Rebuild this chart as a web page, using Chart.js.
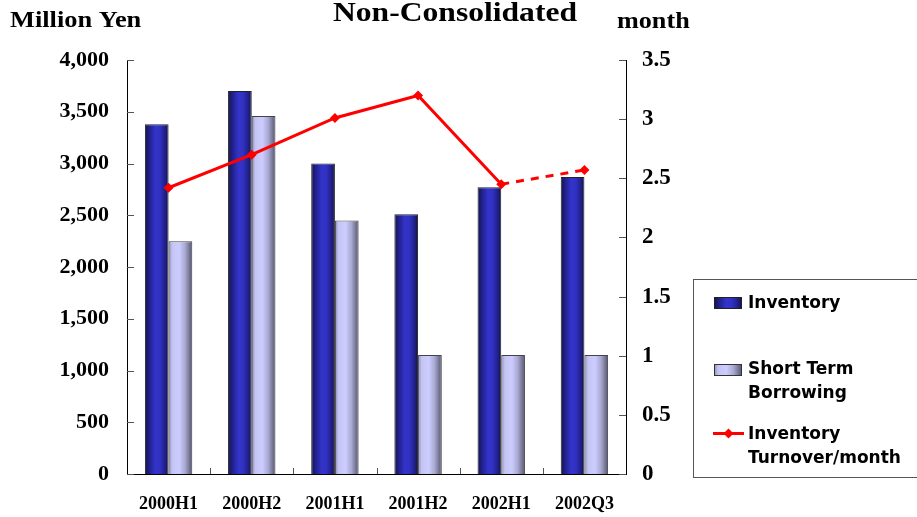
<!DOCTYPE html>
<html>
<head>
<meta charset="utf-8">
<script src="https://cdn.jsdelivr.net/npm/chart.js@4.4.1/dist/chart.umd.min.js"></script>
<style>
html,body{margin:0;padding:0;background:#fff;}
#wrap{position:relative;width:917px;height:517px;}
</style>
</head>
<body>
<div id="wrap"><canvas id="c" width="917" height="517"></canvas></div>
<script>
const categories = ["2000H1","2000H2","2001H1","2001H2","2002H1","2002Q3"];
const inventory = [3380, 3700, 3000, 2510, 2770, 2870];
const shortTermBorrowing = [2250, 3460, 2450, 1150, 1150, 1150];
const turnover = [2.42, 2.70, 3.01, 3.20, 2.45, 2.57];
const leftTicks = [0,500,1000,1500,2000,2500,3000,3500,4000];
const rightTicks = [0,0.5,1,1.5,2,2.5,3,3.5];

const CAT_PCT = 0.57;
const SERIF = '"Liberation Serif", "Times New Roman", serif';
const SANS = '"DejaVu Sans", sans-serif';

function barGradient(ctx, stops, fallback) {
  const chart = ctx.chart;
  const xs = chart.scales && chart.scales.x;
  if (!xs || ctx.dataIndex === undefined || !chart.chartArea) return fallback;
  const c = xs.getPixelForValue(ctx.dataIndex);
  const cw = xs.getPixelForValue(1) - xs.getPixelForValue(0);
  const bw = cw * CAT_PCT / 2;
  const left = ctx.datasetIndex === 0 ? c - bw : c;
  const g = chart.ctx.createLinearGradient(left, 0, left + bw, 0);
  stops.forEach(s => g.addColorStop(s[0], s[1]));
  return g;
}
const invStops = [[0,'#12124a'],[0.18,'#20208a'],[0.45,'#3434cc'],[0.65,'#3030c0'],[0.88,'#1e1e80'],[1,'#101040']];
const stbStops = [[0,'#8a8ab0'],[0.15,'#c4c4f4'],[0.45,'#ccccff'],[0.7,'#a8a8d0'],[0.9,'#707090'],[1,'#50506a']];

const decoPlugin = {
  id: 'deco',
  afterDraw(chart) {
    const ctx = chart.ctx;
    const ca = chart.chartArea;
    const ys = chart.scales.y, y1 = chart.scales.y1, xs = chart.scales.x;
    ctx.save();
    // inward tick marks
    ctx.strokeStyle = '#555';
    ctx.lineWidth = 1;
    ctx.beginPath();
    ys.ticks.forEach(t => {
      const p = Math.round(ys.getPixelForValue(t.value)) + 0.5;
      ctx.moveTo(ca.left, p); ctx.lineTo(ca.left + 7, p);
    });
    y1.ticks.forEach(t => {
      const p = Math.round(y1.getPixelForValue(t.value)) + 0.5;
      ctx.moveTo(ca.right - 7, p); ctx.lineTo(ca.right, p);
    });
    for (let i = 1; i < categories.length; i++) {
      const p = Math.round((xs.getPixelForValue(i - 1) + xs.getPixelForValue(i)) / 2) + 0.5;
      ctx.moveTo(p, ca.bottom); ctx.lineTo(p, ca.bottom - 6);
    }
    ctx.stroke();

    // texts (title + axis unit labels)
    ctx.fillStyle = '#000';
    ctx.textBaseline = 'alphabetic';
    function stretched(text, x, y, size, sx, align) {
      ctx.save();
      ctx.font = 'bold ' + size + 'px ' + SERIF;
      ctx.textAlign = align;
      ctx.translate(x, y);
      ctx.scale(sx, 1);
      ctx.fillText(text, 0, 0);
      ctx.restore();
    }
    stretched('Non-Consolidated', 455, 21, 27, 1.17, 'center');
    stretched('Million Yen', 10, 27, 24, 1.1, 'left');
    stretched('month', 617, 28, 24, 1.09, 'left');

    // legend box
    ctx.strokeStyle = '#555';
    ctx.lineWidth = 1;
    ctx.strokeRect(693.5, 279.5, 240, 198);
    ctx.font = 'bold 17px ' + SANS;
    ctx.textAlign = 'left';
    ctx.textBaseline = 'middle';
    ctx.fillStyle = '#000';
    function swatch(x, y, w, h, stops, border) {
      const g = ctx.createLinearGradient(x, 0, x + w, 0);
      stops.forEach(s => g.addColorStop(s[0], s[1]));
      ctx.fillStyle = g;
      ctx.fillRect(x, y, w, h);
      ctx.strokeStyle = border;
      ctx.strokeRect(x + 0.5, y + 0.5, w - 1, h - 1);
    }
    swatch(714, 297, 28, 12, invStops, '#222');
    swatch(714, 364, 28, 12, stbStops, '#333');
    ctx.fillStyle = '#000';
    ctx.fillText(chart.data.datasets[0].label, 748, 304);
    ctx.fillText('Short Term', 748, 370);
    ctx.fillText('Borrowing', 748, 394);
    ctx.fillText('Inventory', 748, 435);
    ctx.fillText('Turnover/month', 748, 459);
    // line legend
    ctx.strokeStyle = '#ff0000';
    ctx.lineWidth = 3;
    ctx.beginPath(); ctx.moveTo(713, 433.5); ctx.lineTo(744, 433.5); ctx.stroke();
    ctx.fillStyle = '#ff0000';
    ctx.beginPath();
    ctx.moveTo(728.5, 428.5); ctx.lineTo(733.5, 433.5); ctx.lineTo(728.5, 438.5); ctx.lineTo(723.5, 433.5);
    ctx.closePath(); ctx.fill();
    ctx.restore();
  }
};

new Chart(document.getElementById('c'), {
  type: 'bar',
  data: {
    labels: categories,
    datasets: [
      {
        label: 'Inventory',
        data: inventory,
        yAxisID: 'y',
        order: 2,
        backgroundColor: ctx => barGradient(ctx, invStops, '#2a2aa8'),
        borderColor: '#222',
        borderWidth: 1,
        categoryPercentage: CAT_PCT,
        barPercentage: 1.0
      },
      {
        label: 'Short Term Borrowing',
        data: shortTermBorrowing,
        yAxisID: 'y',
        order: 2,
        backgroundColor: ctx => barGradient(ctx, stbStops, '#c4c4f0'),
        borderColor: '#444',
        borderWidth: 1,
        categoryPercentage: CAT_PCT,
        barPercentage: 1.0
      },
      {
        type: 'line',
        label: 'Inventory Turnover/month',
        data: turnover,
        yAxisID: 'y1',
        order: 0,
        borderColor: '#ff0000',
        backgroundColor: '#ff0000',
        borderWidth: 3,
        pointStyle: 'rectRot',
        pointRadius: 5,
        pointBorderWidth: 0,
        tension: 0,
        fill: false,
        segment: {
          borderDash: ctx => ctx.p0DataIndex >= 4 ? [8, 7] : undefined
        }
      }
    ]
  },
  options: {
    responsive: false,
    animation: false,
    devicePixelRatio: 1,
    layout: { padding: { top: 60, left: 0, right: 0, bottom: 0 } },
    plugins: {
      legend: { display: false },
      title: { display: false },
      tooltip: { enabled: false }
    },
    scales: {
      x: {
        grid: { display: false, drawTicks: false },
        border: { display: true, color: '#000', width: 1 },
        ticks: { color: '#000', font: { family: SERIF, size: 18, weight: 'bold' }, padding: 20, maxRotation: 0 },
        afterFit(s) { s.height = 43; }
      },
      y: {
        position: 'left',
        min: 0, max: 4000,
        afterBuildTicks(s) { s.ticks = leftTicks.map(v => ({ value: v })); },
        grid: { display: false, drawTicks: false },
        border: { display: true, color: '#000', width: 1 },
        ticks: {
          color: '#000',
          font: { family: SERIF, size: 22, weight: 'bold' },
          padding: 18,
          callback: v => v.toLocaleString('en-US')
        },
        afterFit(s) { s.width = 127; }
      },
      y1: {
        position: 'right',
        min: 0, max: 3.5,
        afterBuildTicks(s) { s.ticks = rightTicks.map(v => ({ value: v })); },
        grid: { display: false, drawTicks: false },
        border: { display: true, color: '#000', width: 1 },
        ticks: {
          color: '#000',
          font: { family: SERIF, size: 23, weight: 'bold' },
          padding: 16,
          callback: v => String(v)
        },
        afterFit(s) { s.width = 291; }
      }
    }
  },
  plugins: [decoPlugin]
});
</script>
</body>
</html>
